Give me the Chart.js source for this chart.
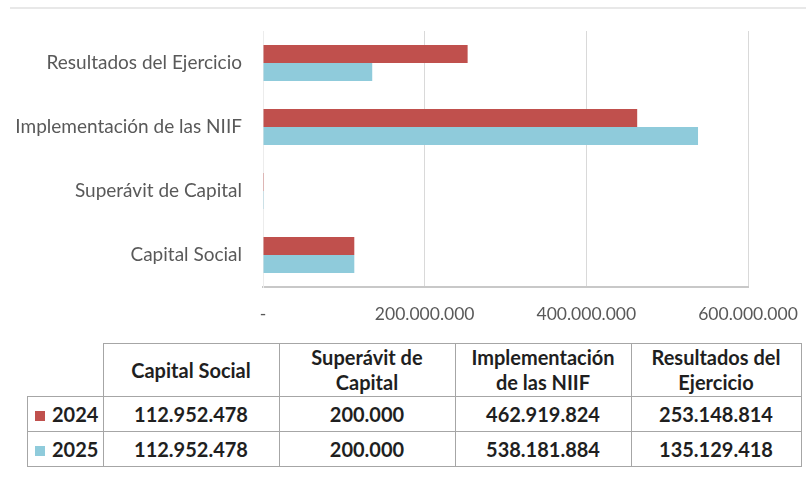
<!DOCTYPE html>
<html>
<head>
<meta charset="utf-8">
<script src="https://cdn.jsdelivr.net/npm/chart.js@4.4.1/dist/chart.umd.min.js"></script>
<style>
    body { margin: 0; background: #fff; }
    .box { position: relative; width: 806px; height: 484px; overflow: hidden; }
    .topline { position: absolute; left: 10px; right: 0; top: 7px; height: 0; border-top: 2px solid #e8e8e8; }
    .chartwrap { position: absolute; left: 0; top: 0; width: 806px; height: 330px; }
    table.datos { position: absolute; left: 27px; top: 343px; border-collapse: collapse; table-layout: fixed;
        font-family: Lato, sans-serif; font-weight: 700; font-size: 20px; color: #1f1f1f; }
    table.datos td, table.datos th { border: 1px solid #a6a6a6; text-align: center; padding: 0; }
    table.datos th { height: 52px; font-weight: 700; }
    table.datos th div { width: 160px; margin: 0 auto; line-height: 25px; }
    table.datos td { height: 34px; }
    table.datos th.empty { border: none; border-right: 1px solid #a6a6a6; border-bottom: 1px solid #a6a6a6; }
    .sq { display: inline-block; width: 10px; height: 10px; margin-right: 7px; vertical-align: 1px; }
</style>
</head>
<body>
<div class="box">
    <div class="topline"></div>
    <div class="chartwrap"><canvas id="chart_niif"></canvas></div>
    <table class="datos" id="tabla"></table>
</div>
<script>
const categories = ['Capital Social', 'Superávit de Capital', 'Implementación de las NIIF', 'Resultados del Ejercicio'];
const years = ['2024', '2025'];
const values_2024 = [112952478, 200000, 462919824, 253148814];
const values_2025 = [112952478, 200000, 538181884, 135129418];
const tick_values = [0, 200000000, 400000000, 600000000];
const colors = ['#C0504D', '#8FCBDB'];

function fmt(n) {
    if (n === 0) return '-';
    return String(n).replace(/\B(?=(\d{3})+(?!\d))/g, '.');
}

// chart draws categories top->bottom in reverse order (Excel style)
const labels_chart = categories.slice().reverse();

const data_chart = {
    labels: labels_chart,
    datasets: [{
        label: years[0],
        backgroundColor: colors[0],
        data: values_2024.slice().reverse(),
    }, {
        label: years[1],
        backgroundColor: colors[1],
        data: values_2025.slice().reverse(),
    }]
};

const config_chart = {
    type: 'bar',
    data: data_chart,
    options: {
        indexAxis: 'y',
        responsive: true,
        maintainAspectRatio: false,
        animation: false,
        categoryPercentage: 0.56,
        barPercentage: 1,
        layout: { padding: { top: 31, right: 58, bottom: 0, left: 0 } },
        plugins: { legend: { display: false }, tooltip: { enabled: false } },
        scales: {
            x: {
                min: 0,
                max: 600000000,
                afterBuildTicks: (scale) => { scale.ticks = tick_values.map(v => ({ value: v })); },
                afterFit: (scale) => {
                    scale.height = 43;
                    scale.paddingLeft = 0;
                    scale.paddingRight = 0;
                },
                grid: { color: '#d9d9d9', drawTicks: false },
                border: { color: '#c8c8c8', width: 2 },
                ticks: {
                    padding: 17,
                    color: '#595959',
                    font: { family: 'Lato', size: 17.5 },
                    callback: (v) => fmt(v)
                }
            },
            y: {
                grid: { display: false, drawTicks: false },
                border: { color: '#ececec' },
                afterFit: (scale) => {
                    scale.width = 263;
                    scale.paddingTop = 0;
                    scale.paddingBottom = 0;
                },
                ticks: {
                    padding: 21,
                    color: '#595959',
                    font: { family: 'Lato', size: 19 }
                }
            }
        }
    }
};

const chart_niif = new Chart(document.getElementById('chart_niif'), config_chart);

// data table under the chart
const tabla = document.getElementById('tabla');
let head = '<tr><th class="empty" style="width:75px"></th>';
categories.forEach((c, i) => { head += '<th style="width:' + (i < 3 ? 175 : 169) + 'px"><div>' + c + '</div></th>'; });
head += '</tr>';
let rows = '';
[values_2024, values_2025].forEach((vals, i) => {
    rows += '<tr><td style="text-align:left;padding-left:7px"><span class="sq" style="background:' + colors[i] + '"></span>' + years[i] + '</td>';
    vals.forEach(v => { rows += '<td>' + fmt(v) + '</td>'; });
    rows += '</tr>';
});
tabla.innerHTML = head + rows;
</script>
</body>
</html>
